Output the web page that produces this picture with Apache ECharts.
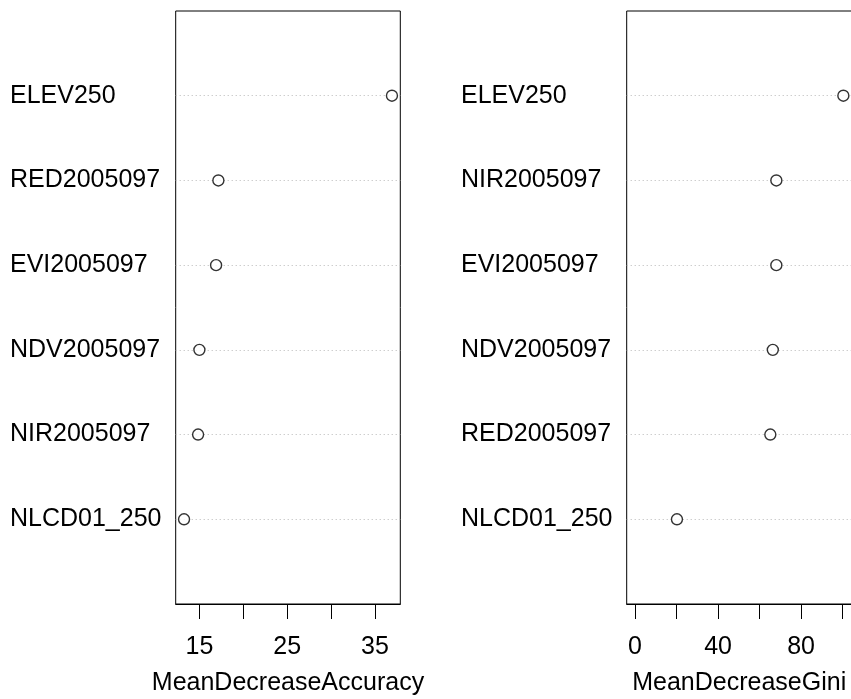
<!DOCTYPE html>
<html>
<head>
<meta charset="utf-8">
<script src="https://cdn.jsdelivr.net/npm/echarts@6/dist/echarts.min.js"></script>
<style>
html,body{margin:0;padding:0;background:#fff;}
#c{width:851px;height:699px;}
</style>
</head>
<body>
<div id="c"></div>
<script>
// Left panel: MeanDecreaseAccuracy (bottom row first)
var accNames = ["NLCD01_250", "NIR2005097", "NDV2005097", "EVI2005097", "RED2005097", "ELEV250"];
var accValues = [13.25, 14.85, 15.0, 16.9, 17.16, 36.93];
var accTicks = [15, 20, 25, 30, 35];
var accTickLabels = [15, 25, 35];
var accRange = [12.30, 37.88];

// Right panel: MeanDecreaseGini (bottom row first)
var giniNames = ["NLCD01_250", "RED2005097", "NDV2005097", "EVI2005097", "NIR2005097", "ELEV250"];
var giniValues = [20.2, 65.2, 66.4, 68.1, 68.1, 100.4];
var giniTicks = [0, 20, 40, 60, 80, 100];
var giniTickLabels = [0, 40, 80];
var giniRange = [-4.02, 104.42];

var FONT = "'Liberation Sans', Arial, Helvetica, sans-serif";
var FS = 25;

function yAxisFor(names, gridIndex) {
  return {
    type: 'value', gridIndex: gridIndex, min: 0, max: names.length + 1, interval: 1,
    axisLine: {show: false}, axisTick: {show: false},
    axisLabel: {
      show: true, align: 'left', margin: 165.7, color: '#000',
      fontFamily: FONT, fontSize: FS, verticalAlign: 'middle', padding: [4, 0, 0, 0],
      formatter: function (v) { return (v >= 1 && v <= names.length) ? names[v - 1] : ''; }
    },
    splitLine: {show: true, showMinLine: false, showMaxLine: false,
      lineStyle: {color: '#b8b8b8', type: [1, 3], width: 1}}
  };
}

function xAxisFor(range, ticks, labels, title, gridIndex) {
  return {
    type: 'value', gridIndex: gridIndex, min: range[0], max: range[1],
    name: title, nameLocation: 'middle', nameGap: 67,
    nameTextStyle: {color: '#000', fontFamily: FONT, fontSize: FS},
    axisLine: {show: true, onZero: false, lineStyle: {color: '#000', width: 1}},
    axisTick: {show: true, inside: false, length: 15, customValues: ticks,
      lineStyle: {color: '#000', width: 1}},
    axisLabel: {show: true, customValues: labels, margin: 31, color: '#000',
      fontFamily: FONT, fontSize: FS},
    splitLine: {show: false}
  };
}

function pts(values) {
  return values.map(function (v, i) { return [v, i + 1]; });
}

var chart = echarts.init(document.getElementById('c'), null, {renderer: 'canvas'});
chart.setOption({
  animation: false,
  backgroundColor: '#fff',
  grid: [
    {left: 175.7, top: 11, width: 224.6, height: 593, show: true, borderColor: '#000', borderWidth: 1, backgroundColor: 'transparent', outerBoundsMode: 'none'},
    {left: 626.7, top: 11, width: 225, height: 593, show: true, borderColor: '#000', borderWidth: 1, backgroundColor: 'transparent', outerBoundsMode: 'none'}
  ],
  xAxis: [
    xAxisFor(accRange, accTicks, accTickLabels, 'MeanDecreaseAccuracy', 0),
    xAxisFor(giniRange, giniTicks, giniTickLabels, 'MeanDecreaseGini', 1)
  ],
  yAxis: [yAxisFor(accNames, 0), yAxisFor(giniNames, 1)],
  series: [
    {type: 'scatter', xAxisIndex: 0, yAxisIndex: 0, data: pts(accValues),
      symbol: 'circle', symbolSize: 11,
      itemStyle: {color: '#fff', borderColor: '#000', borderWidth: 1.4}},
    {type: 'scatter', xAxisIndex: 1, yAxisIndex: 1, data: pts(giniValues),
      symbol: 'circle', symbolSize: 11,
      itemStyle: {color: '#fff', borderColor: '#000', borderWidth: 1.4}}
  ]
});
</script>
</body>
</html>
